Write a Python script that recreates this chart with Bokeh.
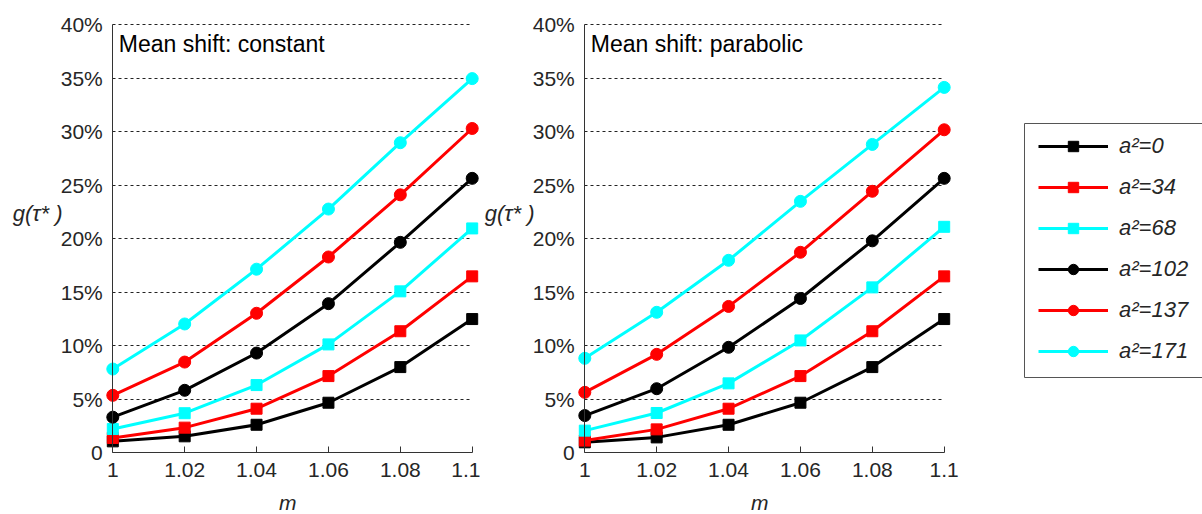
from bokeh.plotting import figure
from bokeh.layouts import row
from bokeh.models import Range1d, FixedTicker, Label, Legend, LegendItem, BoxAnnotation
from bokeh.embed import file_html
from bokeh.resources import INLINE

# ---- data -------------------------------------------------------------
m = [1.00, 1.02, 1.04, 1.06, 1.08, 1.10]
m_labels = ["1", "1.02", "1.04", "1.06", "1.08", "1.1"]

g_ticks = [0, 5, 10, 15, 20, 25, 30, 35, 40]
g_labels = ["0", "5%", "10%", "15%", "20%", "25%", "30%", "35%", "40%"]

a2_values = [0, 34, 68, 102, 137, 171]
series_colors = ["#000000", "#ff0000", "#00ffff", "#000000", "#ff0000", "#00ffff"]
series_markers = ["square", "square", "square", "circle", "circle", "circle"]

# g(tau*) in percent, mean shift constant
g_const_a0 = [1.07, 1.54, 2.62, 4.68, 8.01, 12.5]
g_const_a34 = [1.39, 2.35, 4.12, 7.17, 11.36, 16.49]
g_const_a68 = [2.22, 3.70, 6.33, 10.13, 15.09, 20.97]
g_const_a102 = [3.33, 5.84, 9.32, 13.94, 19.67, 25.65]
g_const_a137 = [5.37, 8.48, 13.04, 18.30, 24.11, 30.31]
g_const_a171 = [7.83, 12.04, 17.16, 22.78, 28.98, 34.97]

# g(tau*) in percent, mean shift parabolic
g_parab_a0 = [0.98, 1.44, 2.62, 4.68, 8.01, 12.5]
g_parab_a34 = [1.14, 2.19, 4.12, 7.17, 11.36, 16.49]
g_parab_a68 = [2.07, 3.72, 6.49, 10.50, 15.46, 21.12]
g_parab_a102 = [3.48, 5.99, 9.86, 14.42, 19.81, 25.65]
g_parab_a137 = [5.65, 9.20, 13.68, 18.74, 24.44, 30.19]
g_parab_a171 = [8.83, 13.13, 17.99, 23.50, 28.82, 34.15]

const_series = [g_const_a0, g_const_a34, g_const_a68, g_const_a102, g_const_a137, g_const_a171]
parab_series = [g_parab_a0, g_parab_a34, g_parab_a68, g_parab_a102, g_parab_a137, g_parab_a171]

FONT = "Liberation Sans"
TEXT_COLOR = "#262626"
HEIGHT = 514
PX_PER_M = 3594.0      # horizontal scale, pixels per unit of m
PX_PER_PCT = 10.7      # vertical scale, pixels per percent
ZERO_FROM_TOP = 452.3  # pixel row of g = 0


def make_panel(title, series, width, x_first_px):
    # the frame fills the whole canvas; axes are pinned at m = 1 and g = 0
    x_start = m[0] - x_first_px / PX_PER_M
    y_start = -(HEIGHT - ZERO_FROM_TOP) / PX_PER_PCT
    p = figure(width=width, height=HEIGHT, output_backend="svg", toolbar_location=None,
               x_range=Range1d(x_start, x_start + width / PX_PER_M),
               y_range=Range1d(y_start, y_start + HEIGHT / PX_PER_PCT),
               min_border=0, min_border_left=0, min_border_right=0,
               min_border_top=0, min_border_bottom=0)
    p.outline_line_color = None
    p.background_fill_color = "white"
    p.border_fill_color = "white"

    xa = p.xaxis[0]
    xa.fixed_location = 0
    xa.ticker = FixedTicker(ticks=m)
    xa.major_label_overrides = dict(zip(m, m_labels))
    xa.bounds = (m[0], m[-1])
    xa.major_tick_in = 6
    xa.major_tick_out = 0
    xa.minor_tick_line_color = None
    xa.major_label_standoff = 10
    xa.axis_line_color = "#333333"
    xa.major_tick_line_color = "#333333"

    ya = p.yaxis[0]
    ya.fixed_location = m[0]
    ya.bounds = (0, 40)
    ya.ticker = FixedTicker(ticks=g_ticks)
    ya.major_label_overrides = dict(zip(g_ticks, g_labels))
    ya.major_tick_in = 0
    ya.major_tick_out = 0
    ya.minor_tick_line_color = None
    ya.major_label_standoff = 10
    ya.axis_line_color = "#333333"

    for ax in (xa, ya):
        ax.major_label_text_font = FONT
        ax.major_label_text_font_size = "21px"
        ax.major_label_text_color = TEXT_COLOR

    # dashed horizontal grid, limited to the m range
    p.xgrid.visible = False
    grid = p.ygrid[0]
    if "cross_bounds" in grid.properties():
        grid.ticker = FixedTicker(ticks=g_ticks[1:])
        grid.cross_bounds = (m[0], m[-1])
        grid.grid_line_color = "#222222"
        grid.grid_line_dash = "3 3"
        grid.grid_line_width = 1
    else:
        grid.visible = False
        p.segment(x0=[m[0]] * (len(g_ticks) - 1), x1=[m[-1]] * (len(g_ticks) - 1),
                  y0=g_ticks[1:], y1=g_ticks[1:], line_color="#222222",
                  line_dash="3 3", line_width=1, level="underlay")

    renderers = []
    for vals, color, marker in zip(series, series_colors, series_markers):
        ln = p.line(m, vals, line_width=3, line_color=color)
        sc = p.scatter(m, vals, marker=marker, size=11 if marker == "square" else 12,
                       fill_color=color, line_color=color)
        renderers.append((ln, sc))

    p.add_layout(Label(x=x_first_px + 6, y=HEIGHT - 43.4, x_units="screen", y_units="screen",
                       text=title, text_font=FONT, text_font_size="23px",
                       text_color="black", text_baseline="middle"))
    p.add_layout(Label(x=x_first_px - 100, y=HEIGHT - 213, x_units="screen", y_units="screen",
                       text="g(τ* )", text_font=FONT, text_font_size="22px",
                       text_font_style="italic", text_color=TEXT_COLOR,
                       text_baseline="middle"))
    p.add_layout(Label(x=x_first_px + 175, y=HEIGHT - 502, x_units="screen", y_units="screen",
                       text="m", text_font=FONT, text_font_size="21px",
                       text_font_style="italic", text_color=TEXT_COLOR,
                       text_align="center", text_baseline="middle"))
    return p, renderers


p1, _ = make_panel("Mean shift: constant", const_series, 480, 112.3)
p2, r2 = make_panel("Mean shift: parabolic", parab_series, 722, 104.3)

# legend frame, running off the right edge of the canvas
p2.add_layout(BoxAnnotation(left=544, right=760, bottom=137, top=391,
                            left_units="screen", right_units="screen",
                            bottom_units="screen", top_units="screen",
                            fill_color="white", fill_alpha=1.0,
                            line_color="#555555", line_width=1, line_alpha=1.0))

items = [LegendItem(label=f"a²={a}", renderers=[ln, sc]) for a, (ln, sc) in zip(a2_values, r2)]
legend = Legend(items=items, location=(558, 150),
                glyph_width=70, glyph_height=26, label_height=26, label_width=70,
                spacing=15, padding=12, label_standoff=11,
                border_line_color=None, background_fill_alpha=0.0,
                label_text_font=FONT, label_text_font_size="22px",
                label_text_font_style="italic", label_text_color=TEXT_COLOR)
p2.add_layout(legend)

layout = row(p1, p2)
open("out.html", "w").write(file_html(layout, INLINE))
